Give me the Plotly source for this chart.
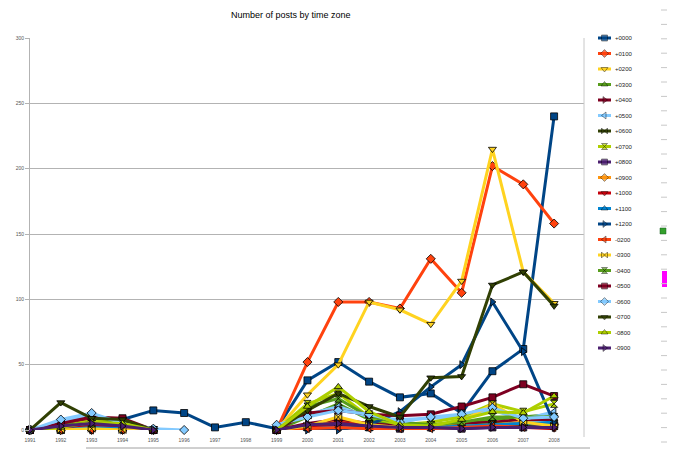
import plotly.graph_objects as go

W, H = 675, 451
OFF = 8  # the page puts the figure 8px in from the corner

years = list(range(1991, 2009))
year_labels = [str(y) for y in years]

zones = ["+0000", "+0100", "+0200", "+0300", "+0400", "+0500", "+0600",
         "+0700", "+0800", "+0900", "+1000", "+1100", "+1200", "-0200",
         "-0300", "-0400", "-0500", "-0600", "-0700", "-0800", "-0900"]

N = None
# posts per year, 1991..2008
p0000 = [0, 0, 3, 8, 15, 13, 2, 6, 1, 38, 52, 37, 25, 28, 13, 45, 62, 240]
p0100 = [0, 0, 0, 0, 0, N, N, N, 0, 52, 98, 98, 93, 131, 105, 202, 188, 158]
p0200 = [0, 0, 0, 0, 0, N, N, N, 0, 27, 50, 98, 92, 81, 114, 215, 121, 97]
p0300 = [0, 2, 4, 3, 0, N, N, N, 0, 10, 20, 8, 3, 2, 4, 8, 10, 12]
p0400 = [0, 3, 8, 5, 0, N, N, N, 0, 5, 8, 5, 3, 4, 5, 6, 8, 8]
p0500 = [0, 6, 11, 6, 0, N, N, N, 2, 12, 18, 10, 8, 9, 10, 15, 8, 14]
p0600 = [0, 1, 2, 1, 0, N, N, N, 0, 3, 5, 3, 2, 3, 2, 5, 4, 5]
p0700 = [0, 3, 7, 6, 0, N, N, N, 0, 20, 28, 10, 4, 6, 10, 20, 14, 20]
p0800 = [0, 2, 6, 1, 0, N, N, N, 0, 2, 3, 2, 1, 2, 1, 2, 2, 3]
p0900 = [0, 0, 1, 1, 0, N, N, N, 0, 3, 6, 3, 2, 2, 3, 4, 6, 4]
p1000 = [0, 1, 3, 2, 1, N, N, N, 0, 2, 6, 3, 2, 2, 2, 3, 2, 1]
p1100 = [0, 0, 2, 1, 0, N, N, N, 0, 1, 2, 1, 1, 2, 3, 4, 5, 6]
p1200 = [0, 0, 0, 0, 0, N, N, N, 0, 0, 0, 4, 14, 33, 50, 98, 60, 5]
m0200 = [0, 0, 0, 0, 0, N, N, N, 0, 1, 2, 1, 1, 1, 2, 3, 2, 2]
m0300 = [0, 0, 1, 0, 0, N, N, N, 0, 3, 10, 4, 2, 4, 6, 20, 6, 3]
m0400 = [0, 4, 5, 7, 0, N, N, N, 0, 18, 24, 10, 6, 4, 6, 10, 10, 10]
m0500 = [0, 5, 10, 9, 0, N, N, N, 0, 13, 15, 12, 11, 12, 18, 25, 35, 26]
m0600 = [0, 8, 13, 5, 1, 0, N, N, 4, 10, 15, 12, 6, 10, 12, 17, 9, 10]
m0700 = [0, 21, 9, 8, 0, N, N, N, 0, 15, 28, 18, 10, 40, 41, 111, 121, 95]
m0800 = [0, 2, 6, 5, 0, N, N, N, 0, 18, 33, 14, 4, 3, 8, 14, 13, 26]
m0900 = [0, 3, 5, 3, 0, N, N, N, 0, 4, 5, 3, 2, 2, 1, 2, 2, 2]

series = [p0000, p0100, p0200, p0300, p0400, p0500, p0600, p0700, p0800,
          p0900, p1000, p1100, p1200, m0200, m0300, m0400, m0500, m0600,
          m0700, m0800, m0900]

palette = ["#004586", "#ff420e", "#ffd320", "#579d1c", "#7e0021", "#83caff",
           "#314004", "#aecf00", "#4b1f6f", "#ff950e", "#c5000b", "#0084d1"]
symbols = ["square", "diamond", "triangle-down", "triangle-up",
           "triangle-right", "triangle-left", "bowtie", "hourglass"]

font = "Liberation Sans, Arial, sans-serif"

fig = go.Figure()

for i, (name, vals) in enumerate(zip(zones, series)):
    c = palette[i % len(palette)]
    s = symbols[i % len(symbols)]
    fig.add_trace(go.Scatter(
        x=years, y=vals, name=name, mode="lines+markers",
        line=dict(color=c, width=3),
        marker=dict(symbol=s, size=7, color=c, line=dict(color="black", width=0.8)),
        cliponaxis=False, showlegend=False))

# hand-made legend on a screen-pixel overlay
for i, name in enumerate(zones):
    c = palette[i % len(palette)]
    s = symbols[i % len(symbols)]
    ly = 38 + i * 15.5
    fig.add_trace(go.Scatter(
        x=[598, 604.5, 611], y=[ly, ly, ly], mode="lines+markers",
        line=dict(color=c, width=3),
        marker=dict(symbol=s, size=[0, 6, 0], color=c, line=dict(color="black", width=0.6)),
        xaxis="x2", yaxis="y2", showlegend=False, hoverinfo="skip"))
    fig.add_annotation(x=613, y=ly, xref="x2", yref="y2", text=name,
                       showarrow=False, xanchor="left", yanchor="middle",
                       font=dict(family=font, size=6, color="#222"))

fig.add_annotation(x=291, y=OFF + 0.5, xref="x2", yref="y2",
                   text="Number of posts by time zone", showarrow=False,
                   yanchor="top", borderpad=0,
                   font=dict(family=font, size=9, color="black"))

# window furniture around the chart (rulers, handles, sheet tabs)
grey = "#a0a0a0"
shapes = [
    dict(type="line", x0=584, x1=584, y0=38, y1=437, line=dict(color="#c8c8c8", width=1)),
    dict(type="line", x0=670, x1=670, y0=0, y1=451, line=dict(color="#c8c8c8", width=1)),
    dict(type="line", x0=86, x1=590, y0=448, y1=448, line=dict(color=grey, width=1)),
    dict(type="rect", x0=660, x1=666, y0=228, y1=234, fillcolor="#33a02c", line=dict(color="#1b5e20", width=0.5)),
    dict(type="rect", x0=662, x1=675, y0=271, y1=287, fillcolor="#ff00ff", line=dict(width=0)),
]
for k in range(0, 32):
    ty = 10 + k * 14.4
    shapes.append(dict(type="line", x0=661, x1=670, y0=ty, y1=ty, line=dict(color="#c8c8c8", width=1)))
for s in shapes:
    s.update(xref="x2", yref="y2", layer="below")

fig.update_layout(
    width=W, height=H,
    margin=dict(l=0, r=0, t=0, b=0, pad=0, autoexpand=False),
    paper_bgcolor="white", plot_bgcolor="rgba(0,0,0,0)",
    font=dict(family=font, color="#444"),
    shapes=shapes,
    xaxis=dict(domain=[(30 - OFF) / W, (584 - OFF) / W], range=[1991, 2008.97],
               tickvals=years, ticktext=year_labels, showgrid=False,
               zeroline=False, showline=False, ticks="", automargin=False,
               tickfont=dict(size=5, color="#555"), ticklabelstandoff=6),
    yaxis=dict(domain=[1 - (430 - OFF) / H, 1 - (38 - OFF) / H], range=[0, 300],
               tickvals=[0, 50, 100, 150, 200, 250, 300], automargin=False,
               showgrid=True, gridcolor="#b3b3b3", gridwidth=1,
               zeroline=False, showline=True, linecolor="#b3b3b3",
               ticks="outside", ticklen=4, tickcolor="#b3b3b3",
               tickfont=dict(size=5, color="#555")),
    xaxis2=dict(domain=[0, 1], range=[OFF, OFF + W], visible=False, fixedrange=True,
                anchor="y2", automargin=False),
    yaxis2=dict(domain=[0, 1], range=[OFF + H, OFF], visible=False, fixedrange=True,
                anchor="x2", automargin=False),
)

fig.write_html("out.html")
